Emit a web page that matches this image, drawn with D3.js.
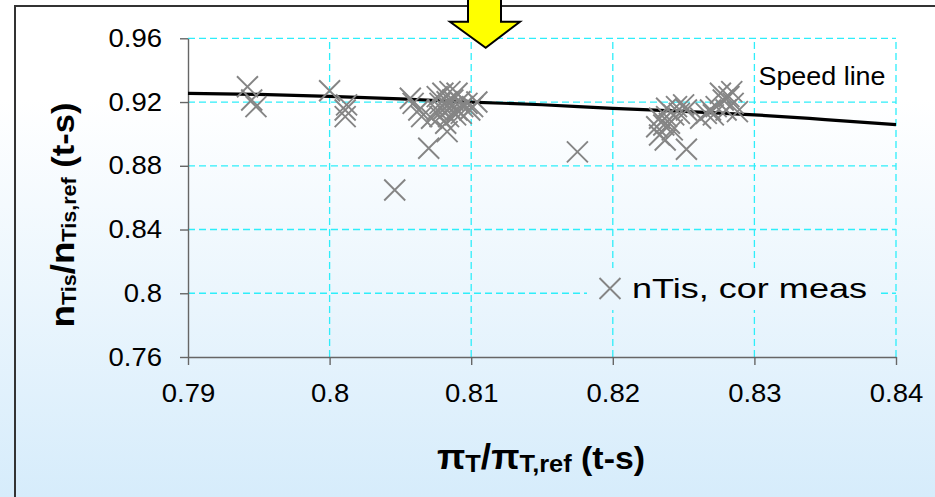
<!DOCTYPE html>
<html><head><meta charset="utf-8">
<script src="https://cdn.jsdelivr.net/npm/d3@7"></script>
<style>body{margin:0;background:#fff;}svg{display:block;font-family:"Liberation Sans",Arial,sans-serif;}</style>
</head><body><svg id="c" width="935" height="497"></svg>
<script>
const xTicks=[0.79,0.80,0.81,0.82,0.83,0.84];
const yTicks=[0.76,0.80,0.84,0.88,0.92,0.96];
const speedX=[0.790,0.795,0.800,0.805,0.810,0.815,0.820,0.825,0.830,0.835,0.840];
const speedY=[0.9255,0.9248,0.9236,0.9220,0.9200,0.9183,0.9160,0.9142,0.9120,0.9090,0.9058];
const measX=[0.7942,0.7948,0.7945,
 0.8000,0.8011,0.8011,0.8012,
 0.8059,0.8063,0.8065,0.8057,0.8070,0.8046,0.8083,0.8101,0.8104,
 0.8076,0.8080,0.8085,0.8090,0.8078,0.8083,0.8087,0.8092,0.8076,0.8080,0.8085,0.8090,0.8094,0.8078,0.8084,0.8089,0.8093,0.8082,0.8097,0.8099,0.8072,
 0.8175,
 0.8238,0.8245,0.8250,0.8233,0.8238,0.8243,0.8247,0.8231,0.8236,0.8240,0.8233,0.8237,0.8252,0.8242,0.8252,
 0.8269,0.8273,0.8278,0.8282,0.8285,0.8276,0.8271,0.8280,0.8288,0.8262,0.8266,0.8284];
const measY=[0.9296,0.9171,0.9213,
 0.9271,0.9150,0.9108,0.9182,
 0.9192,0.9150,0.9108,0.9224,0.8910,0.8648,0.9014,0.9171,0.9200,
 0.9234,0.9255,0.9265,0.9255,0.9192,0.9202,0.9213,0.9202,0.9150,0.9150,0.9161,0.9150,0.9171,0.9108,0.9108,0.9119,0.9129,0.9067,0.9192,0.9150,0.9098,
 0.8887,
 0.9161,0.9171,0.9182,0.9098,0.9108,0.9119,0.9129,0.9045,0.9056,0.9067,0.8993,0.8962,0.9150,0.9025,0.8904,
 0.9150,0.9171,0.9213,0.9234,0.9192,0.9255,0.9119,0.9150,0.9140,0.9098,0.9129,0.9265];
const speedLabel="Speed line";
const legendLabel="nTis, cor meas";

const W=935,H=497;
const svg=d3.select("#c");
const defs=svg.append("defs");
const g=defs.append("linearGradient").attr("id","bg").attr("gradientUnits","userSpaceOnUse")
 .attr("x1",0).attr("y1",0).attr("x2",0).attr("y2",H);
g.append("stop").attr("offset",0).attr("stop-color","#ffffff");
g.append("stop").attr("offset",0.2).attr("stop-color","#ffffff");
g.append("stop").attr("offset",1).attr("stop-color","#d6ecfb");
svg.append("rect").attr("width",W).attr("height",H).attr("fill","url(#bg)");

const x=d3.scaleLinear().domain([0.79,0.84]).range([188,896]);
const y=d3.scaleLinear().domain([0.76,0.96]).range([357,38.3]);

const grid=svg.append("g").attr("stroke","#2eeefa").attr("stroke-width",1.3).attr("stroke-dasharray","7,4").attr("fill","none");
grid.selectAll("line.v").data(xTicks.slice(1)).join("line").attr("class","v")
 .attr("x1",d=>x(d)).attr("x2",d=>x(d)).attr("y1",y(0.76)).attr("y2",y(0.96));
grid.selectAll("line.h").data(yTicks.slice(1)).join("line").attr("class","h")
 .attr("y1",d=>y(d)).attr("y2",d=>y(d)).attr("x1",x(0.79)).attr("x2",x(0.84));

function stretch(sel,k){sel.each(function(){const w=this.getComputedTextLength();d3.select(this).attr("textLength",w*k).attr("lengthAdjust","spacingAndGlyphs");});}
const fmt=d3.format(".2~f");
const ax=svg.append("g").attr("transform",`translate(0,${y(0.76)})`)
 .call(d3.axisBottom(x).tickValues(xTicks).tickFormat(fmt).tickSize(8).tickSizeOuter(0).tickPadding(19));
const ay=svg.append("g").attr("transform",`translate(${x(0.79)},0)`)
 .call(d3.axisLeft(y).tickValues(yTicks).tickFormat(fmt).tickSize(8).tickSizeOuter(0).tickPadding(18));
[ax,ay].forEach(a=>{a.select(".domain").attr("stroke","#666").attr("stroke-width",1.4);
 a.selectAll(".tick line").attr("stroke","#666").attr("stroke-width",1.4);
 a.selectAll(".tick text").attr("font-size",25).attr("font-family","Liberation Sans, Arial, sans-serif").attr("fill","#000");
 stretch(a.selectAll(".tick text"),1.1);});

svg.append("path").datum(speedX.map((d,i)=>[d,speedY[i]]))
 .attr("d",d3.line().x(d=>x(d[0])).y(d=>y(d[1])).curve(d3.curveMonotoneX))
 .attr("fill","none").attr("stroke","#000").attr("stroke-width",3.2);

const s=10.5;
const mk=svg.append("g").attr("stroke","#858585").attr("stroke-width",1.9).attr("fill","none");
mk.selectAll("path").data(measX.map((d,i)=>[d,measY[i]])).join("path")
 .attr("d",d=>{const cx=x(d[0]),cy=y(d[1]);return `M${cx-s},${cy-s}L${cx+s},${cy+s}M${cx-s},${cy+s}L${cx+s},${cy-s}`;});

svg.append("text").attr("x",758.5).attr("y",85).attr("font-size",25).text(speedLabel)
 .attr("textLength",127).attr("lengthAdjust","spacingAndGlyphs");

svg.append("rect").attr("x",587).attr("y",268).attr("width",293).attr("height",42).attr("fill","url(#bg)");
const lc=[610,288.5];
svg.append("path").attr("d",`M${lc[0]-s},${lc[1]-s}L${lc[0]+s},${lc[1]+s}M${lc[0]-s},${lc[1]+s}L${lc[0]+s},${lc[1]-s}`)
 .attr("stroke","#858585").attr("stroke-width",1.9);
svg.append("text").attr("x",632).attr("y",298).attr("font-size",28).text(legendLabel)
 .attr("textLength",235).attr("lengthAdjust","spacingAndGlyphs");

const yt=svg.append("text").attr("transform","translate(74,215) rotate(-90)").attr("text-anchor","middle").attr("font-weight","bold");
yt.append("tspan").attr("font-size",34).text("n");
yt.append("tspan").attr("font-size",20).attr("dy",2).text("Tis");
yt.append("tspan").attr("font-size",34).attr("dy",-2).text("/n");
yt.append("tspan").attr("font-size",20).attr("dy",2).text("Tis,ref");
yt.append("tspan").attr("font-size",32).attr("dy",-2).text("\u00a0(t-s)");
yt.attr("textLength",225).attr("lengthAdjust","spacingAndGlyphs");

const xt=svg.append("text").attr("transform","translate(541,469)").attr("text-anchor","middle").attr("font-weight","bold");
xt.append("tspan").attr("font-size",35).text("\u03c0");
xt.append("tspan").attr("font-size",24).attr("dy",3).text("T");
xt.append("tspan").attr("font-size",35).attr("dy",-3).text("/\u03c0");
xt.append("tspan").attr("font-size",24).attr("dy",3).text("T,ref");
xt.append("tspan").attr("font-size",32).attr("dy",-3).text("\u00a0(t-s)");
xt.attr("textLength",208).attr("lengthAdjust","spacingAndGlyphs");

svg.append("path").attr("d","M15,497V6H935").attr("fill","none").attr("stroke","#333").attr("stroke-width",2);
svg.append("path").attr("d","M468,-3V21.7H450L485.7,47.7L520,21.7H501V-3Z")
 .attr("fill","#ffff00").attr("stroke","#000").attr("stroke-width",2).attr("stroke-linejoin","miter");
</script></body></html>
